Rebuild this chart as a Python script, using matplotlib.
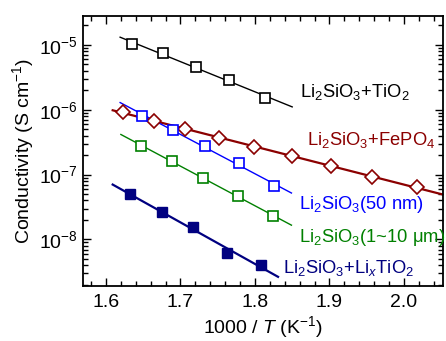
import numpy as np
import matplotlib
matplotlib.use("Agg")
import matplotlib.pyplot as plt
from matplotlib.ticker import LogLocator, MultipleLocator, FormatStrFormatter

plt.rcParams['font.family'] = ['Liberation Sans', 'DejaVu Sans']
plt.rcParams['mathtext.fontset'] = 'custom'
plt.rcParams['mathtext.rm'] = 'Liberation Sans'
plt.rcParams['mathtext.it'] = 'Liberation Sans:italic'
plt.rcParams['mathtext.bf'] = 'Liberation Sans:bold'

# ---- data (1000/T in K^-1, conductivity in S cm^-1) ----
tio2_x = [1.6353, 1.6769, 1.7208, 1.7651, 1.8134]
tio2_y = [1.03e-5, 7.45e-6, 4.62e-6, 2.88e-6, 1.54e-6]
tio2_fit_range = [1.619, 1.850]

fepo4_x = [1.6232, 1.6644, 1.7060, 1.7521, 1.7991, 1.8493, 1.9016, 1.9566, 2.0170]
fepo4_y = [9.35e-7, 6.79e-7, 5.06e-7, 3.63e-7, 2.64e-7, 1.94e-7, 1.37e-7, 9.28e-8, 6.50e-8]
fepo4_fit_range = [1.609, 2.06]

nm50_x = [1.6483, 1.6895, 1.7329, 1.7785, 1.8259]
nm50_y = [8.11e-7, 4.93e-7, 2.76e-7, 1.49e-7, 6.67e-8]
nm50_fit_range = [1.619, 1.849]

um_x = [1.6470, 1.6882, 1.7298, 1.7768, 1.8238]
um_y = [2.79e-7, 1.62e-7, 8.96e-8, 4.68e-8, 2.32e-8]
um_fit_range = [1.620, 1.849]

lixtio2_x = [1.6322, 1.6748, 1.7172, 1.7620, 1.8081]
lixtio2_y = [5.02e-8, 2.62e-8, 1.57e-8, 6.23e-9, 4.03e-9]
lixtio2_fit_range = [1.609, 1.831]

labels = [r"Li$_2$SiO$_3$+TiO$_2$",
          r"Li$_2$SiO$_3$+FePO$_4$",
          r"Li$_2$SiO$_3$(50 nm)",
          r"Li$_2$SiO$_3$(1~10 μm)",
          r"Li$_2$SiO$_3$+Li$_x$TiO$_2$"]
xticks = [1.6, 1.7, 1.8, 1.9, 2.0]

fig = plt.figure(figsize=(4.46, 3.41), dpi=100)
ax = fig.add_axes([0.185, 0.161, 0.808, 0.793])

series = [
    (tio2_x, tio2_y, tio2_fit_range, 'black', 's', 'none', 1.0),
    (fepo4_x, fepo4_y, fepo4_fit_range, '#8b0000', 'D', 'none', 1.6),
    (nm50_x, nm50_y, nm50_fit_range, '#0000ff', 's', 'none', 1.0),
    (um_x, um_y, um_fit_range, '#008000', 's', 'none', 1.0),
    (lixtio2_x, lixtio2_y, lixtio2_fit_range, '#000080', 's', 'full', 1.6),
]
for x, y, rng, c, m, fill, lw in series:
    x = np.array(x); y = np.array(y)
    p = np.polyfit(x, np.log10(y), 1)
    xf = np.array(rng)
    ax.plot(xf, 10 ** np.polyval(p, xf), color=c, lw=lw, zorder=2)
    if fill == 'none':
        ax.plot(x, y, ls='none', marker=m, ms=7.5 if m == 's' else 7.2,
                mfc='white', mec=c, mew=1.2, zorder=3)
    else:
        ax.plot(x, y, ls='none', marker=m, ms=7.3, mfc=c, mec=c, mew=1.0, zorder=3)

ax.set_yscale('log')
ax.set_xlim(1.5685, 2.0523)
ax.set_ylim(1.91e-9, 2.83e-5)
ax.set_xticks(xticks)
ax.xaxis.set_minor_locator(MultipleLocator(0.02))
ax.xaxis.set_major_formatter(FormatStrFormatter('%.1f'))
ax.yaxis.set_major_locator(LogLocator(base=10, numticks=20))
ax.yaxis.set_minor_locator(LogLocator(base=10, subs=np.arange(2, 10), numticks=20))

ax.tick_params(which='both', direction='in', top=True, right=True, labelsize=14, width=1.0)
ax.tick_params(which='major', length=6)
ax.tick_params(which='minor', length=3.5)
ax.tick_params(axis='x', pad=6)
for s in ax.spines.values():
    s.set_linewidth(1.3)

ax.set_xlabel(r"1000 / $T$ (K$^{-1}$)", fontsize=14, labelpad=2)
ax.set_ylabel(r"Conductivity (S cm$^{-1}$)", fontsize=14, labelpad=2)

label_colors = ['black', '#8b0000', '#0000ff', '#008000', '#000080']
label_pos = [(0.603, 0.700), (0.623, 0.522), (0.601, 0.284), (0.601, 0.164), (0.556, 0.047)]
for t, c, (lx, ly) in zip(labels, label_colors, label_pos):
    ax.text(lx, ly, t, color=c, fontsize=13.2, transform=ax.transAxes,
            ha='left', va='baseline')

fig.savefig('out.png', dpi=100)
